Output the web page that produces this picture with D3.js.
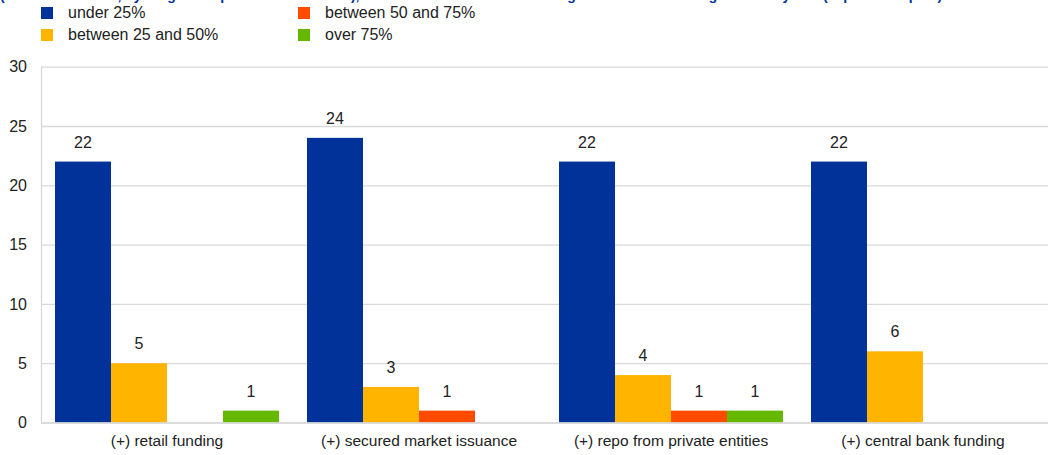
<!DOCTYPE html>
<html>
<head>
<meta charset="utf-8">
<script src="https://cdn.jsdelivr.net/npm/d3@7"></script>
<style>
  html, body { margin: 0; padding: 0; background: #fff; }
  svg { display: block; font-family: Arial, "Liberation Sans", sans-serif; }
</style>
</head>
<body>
<svg id="chart" width="1048" height="455"></svg>
<script>
const categories = ["(+) retail funding", "(+) secured market issuance", "(+) repo from private entities", "(+) central bank funding"];
const seriesNames = ["under 25%", "between 25 and 50%", "between 50 and 75%", "over 75%"];
const seriesColors = ["#003299", "#FFB400", "#FF4B00", "#65B800"];
const under25 = [22, 24, 22, 22];
const between25and50 = [5, 3, 4, 6];
const between50and75 = [0, 1, 1, 0];
const over75 = [1, 0, 1, 0];
const yTicks = [0, 5, 10, 15, 20, 25, 30];
const titleText = "(number of banks, by range of expected net increase), share of each source of funding in total bank funding over two years (expected impact)";

const seriesValues = [under25, between25and50, between50and75, over75];

const svg = d3.select("#chart");

const x0 = d3.scaleBand().domain(categories).range([41, 1049]).padding(0);
const x1 = d3.scaleBand().domain(seriesNames).range([14, x0.bandwidth() - 14]).padding(0);
const y = d3.scaleLinear().domain([0, 30]).range([422.5, 66.7]);

// title (cut off at top, as in the reference)
svg.append("text")
  .attr("x", 0).attr("y", -0.5)
  .attr("fill", "#003299")
  .attr("font-weight", "bold")
  .attr("font-size", 14)
  .text(titleText);

// gridlines
const grid = svg.append("g").attr("transform", "translate(41,0)")
  .call(d3.axisLeft(y).tickValues(yTicks).tickSize(-(1048 - 41)).tickFormat(""));
grid.select(".domain").remove();
grid.selectAll("line").attr("stroke", "#d9d9d9").attr("stroke-width", 1.3);

// left axis line
svg.append("line")
  .attr("x1", 41.5).attr("x2", 41.5)
  .attr("y1", y(30)).attr("y2", y(0))
  .attr("stroke", "#d9d9d9").attr("stroke-width", 1.3);

// y tick labels
const yAxis = svg.append("g").attr("transform", "translate(41,0)")
  .call(d3.axisLeft(y).tickValues(yTicks).tickSize(0).tickPadding(14).tickFormat(d3.format("d")));
yAxis.select(".domain").remove();
yAxis.selectAll("text")
  .attr("font-size", 16)
  .attr("font-family", "Arial, 'Liberation Sans', sans-serif")
  .attr("fill", "#222");

// bars
const groups = svg.append("g").selectAll("g")
  .data(categories)
  .join("g")
  .attr("transform", d => `translate(${x0(d)},0)`);

groups.each(function(cat, ci) {
  const g = d3.select(this);
  seriesNames.forEach((s, si) => {
    const v = seriesValues[si][ci];
    if (v > 0) {
      g.append("rect")
        .attr("x", x1(s))
        .attr("y", y(v))
        .attr("width", x1.bandwidth())
        .attr("height", y(0) - y(v))
        .attr("fill", seriesColors[si]);
      g.append("text")
        .attr("x", x1(s) + x1.bandwidth() / 2)
        .attr("y", y(v) - 14)
        .attr("text-anchor", "middle")
        .attr("font-size", 16)
        .attr("fill", "#222")
        .text(v);
    }
  });
});

// x axis baseline
svg.append("line")
  .attr("x1", 41).attr("x2", 1048)
  .attr("y1", y(0) + 0.5).attr("y2", y(0) + 0.5)
  .attr("stroke", "#d9d9d9").attr("stroke-width", 1.3);

// x labels
const xAxis = svg.append("g").attr("transform", `translate(0,${y(0)})`)
  .call(d3.axisBottom(x0).tickSize(0).tickPadding(12));
xAxis.select(".domain").remove();
xAxis.selectAll("text")
  .attr("font-size", 15.5)
  .attr("font-family", "Arial, 'Liberation Sans', sans-serif")
  .attr("fill", "#222");

// legend
const legendPos = [[41, 13], [41, 35], [298, 13], [298, 35]];
seriesNames.forEach((s, i) => {
  const [lx, ly] = legendPos[i];
  svg.append("rect")
    .attr("x", lx).attr("y", ly - 6)
    .attr("width", 12).attr("height", 12)
    .attr("fill", seriesColors[i]);
  svg.append("text")
    .attr("x", lx + 27).attr("y", ly + 5)
    .attr("font-size", 16)
    .attr("fill", "#222")
    .text(s);
});
</script>
</body>
</html>
